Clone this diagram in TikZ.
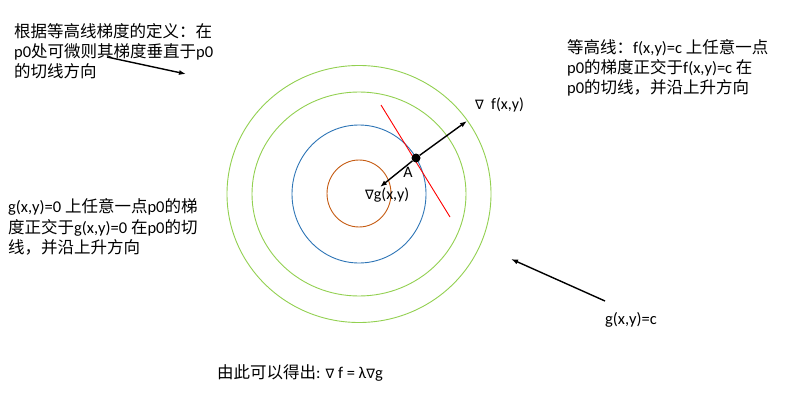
\documentclass[tikz,border=0pt]{standalone}
\usepackage{fontspec}
\setmainfont{Carlito}
\newfontfamily\cjk{Noto Sans CJK SC}
\newfontfamily\nablafont{DejaVu Sans}
\usetikzlibrary{arrows.meta}
\definecolor{contourgreen}{HTML}{92D050}
\definecolor{contourblue}{HTML}{2E75B6}
\definecolor{contourorange}{HTML}{C55A11}
\newcommand{\nab}{{\nablafont\fontsize{13}{13}\selectfont ∇}}
\tikzset{
	note/.style={anchor=west, inner sep=0pt, align=left, font={\fontsize{16.5}{20.3}\selectfont}},
	grad/.style={-{Latex[length=7pt,width=5pt]}, line width=1.4pt},
	contour/.style={line width=0.9pt}
}
\begin{document}
\begin{tikzpicture}[x=1pt, y=-1pt]
	\useasboundingbox (0,0) rectangle (803,420);
	% contour lines
	\draw[contour, contourgreen] (359,194) ellipse [x radius=132, y radius=128.5];
	\draw[contour, contourgreen] (359,194) ellipse [x radius=107, y radius=102];
	\draw[contour, contourblue] (359,194) ellipse [x radius=67, y radius=69];
	\draw[contour, contourorange] (359,193.5) ellipse [x radius=32, y radius=33.5];
	% tangent at p0
	\coordinate (tanA) at (381,105);
	\coordinate (tanB) at (450,217);
	\draw[red, line width=0.9pt] (tanA) -- (tanB);
	% point A and gradients
	\node[circle, fill=black, inner sep=0pt, minimum size=9pt] (A) at (416,158) {};
	\coordinate (fend) at (467,121);
	\coordinate (gend) at (380,187);
	\draw[grad] (A) -- (fend);
	\draw[grad] (A) -- (gend);
	\node[font={\fontsize{16}{16}\selectfont}] (Alabel) at (408,172) {A};
	\node[anchor=west, inner sep=0pt, font={\fontsize{16}{16}\selectfont}] (glabel) at (365,195) {\nab g(x,y)};
	\node[anchor=west, inner sep=0pt, font={\fontsize{16}{16}\selectfont}] (flabel) at (475,105) {\nab\ \ f(x,y)};
	% notes
	\node[note] (defnote) at (14,51) {{\cjk 根据等高线梯度的定义：在}\\p0{\cjk 处可微则其梯度垂直于}p0\\{\cjk 的切线方向}};
	\coordinate (defstart) at (107,57);
	\coordinate (defend) at (186,74);
	\draw[grad] (defstart) -- (defend);
	\node[note] (fnote) at (567,68) {{\cjk 等高线：}f(x,y)=c {\cjk 上任意一点}\\p0{\cjk 的梯度正交于}f(x,y)=c {\cjk 在}\\p0{\cjk 的切线，并沿上升方向}};
	\node[note] (gnote) at (8,227) {g(x,y)=0 {\cjk 上任意一点}p0{\cjk 的梯}\\{\cjk 度正交于}g(x,y)=0 {\cjk 在}p0{\cjk 的切}\\{\cjk 线，并沿上升方向}};
	\node[note] (gc) at (605,320) {g(x,y)=c};
	\coordinate (gcstart) at (605,301);
	\coordinate (gcend) at (511,259);
	\draw[grad] (gcstart) -- (gcend);
	\node[note] (result) at (217,373) {{\cjk 由此可以得出}: \nab\ f = λ\nab g};
\end{tikzpicture}
\end{document}
